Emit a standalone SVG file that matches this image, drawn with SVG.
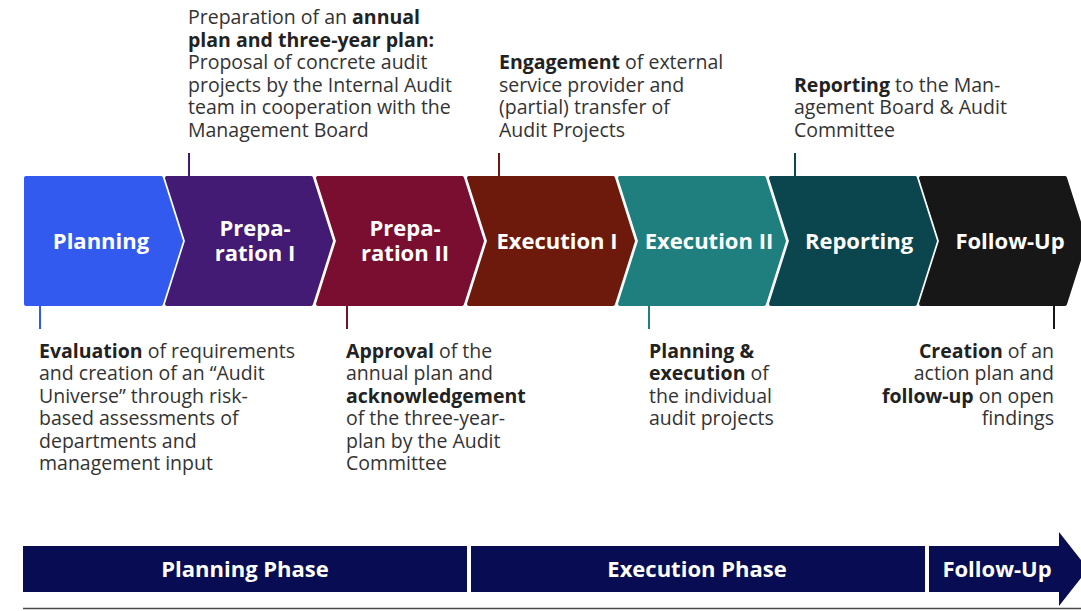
<svg xmlns="http://www.w3.org/2000/svg" width="1081" height="611" viewBox="0 0 1081 611">
<style>
.lbl{font-family:"Open Sans","Liberation Sans",sans-serif;font-weight:700;font-size:22px;fill:#fff;text-anchor:middle}
.bar{font-family:"Open Sans","Liberation Sans",sans-serif;font-weight:700;font-size:22px;fill:#fff;text-anchor:middle}
.txt{font-family:"Open Sans","Liberation Sans",sans-serif;font-size:19.5px;fill:#333}
.b{font-weight:700;fill:#222}
.chev{stroke-width:4;stroke-linejoin:round}
.tick{stroke-width:2;fill:none}
</style>
<rect width="1081" height="611" fill="#fff"/>
<g id="connectors">
<line class="tick" x1="40" y1="306" x2="40" y2="329" stroke="#335AEF"/>
<line class="tick" x1="189" y1="153" x2="189" y2="176" stroke="#431B75"/>
<line class="tick" x1="347" y1="306" x2="347" y2="329" stroke="#790E31"/>
<line class="tick" x1="499" y1="153" x2="499" y2="176" stroke="#6D1A0D"/>
<line class="tick" x1="649" y1="306" x2="649" y2="329" stroke="#1F7F7E"/>
<line class="tick" x1="795" y1="153" x2="795" y2="176" stroke="#0B454E"/>
<line class="tick" x1="1054" y1="306" x2="1054" y2="329" stroke="#171717"/>
</g>
<g id="planning">
<polygon class="chev" fill="#335AEF" stroke="#335AEF" points="26,178 161,178 181,241 161,304 26,304"/>
<text class="lbl" x="101" y="249">Planning</text>
</g>
<g id="preparation1">
<polygon class="chev" fill="#431B75" stroke="#431B75" points="167,178 311,178 331,241 311,304 167,304 187,241"/>
<text class="lbl" x="255" y="236">Prepa-</text>
<text class="lbl" x="255" y="261">ration I</text>
</g>
<g id="preparation2">
<polygon class="chev" fill="#790E31" stroke="#790E31" points="318,178 462,178 482,241 462,304 318,304 338,241"/>
<text class="lbl" x="405" y="236">Prepa-</text>
<text class="lbl" x="405" y="261">ration II</text>
</g>
<g id="execution1">
<polygon class="chev" fill="#6D1A0D" stroke="#6D1A0D" points="469,178 613,178 633,241 613,304 469,304 489,241"/>
<text class="lbl" x="557" y="249">Execution I</text>
</g>
<g id="execution2">
<polygon class="chev" fill="#1F7F7E" stroke="#1F7F7E" points="620,178 764,178 784,241 764,304 620,304 640,241"/>
<text class="lbl" x="709" y="249">Execution II</text>
</g>
<g id="reporting">
<polygon class="chev" fill="#0B454E" stroke="#0B454E" points="771,178 915,178 935,241 915,304 771,304 791,241"/>
<text class="lbl" x="859" y="249">Reporting</text>
</g>
<g id="followup">
<polygon class="chev" fill="#171717" stroke="#171717" points="921,178 1065,178 1085,241 1065,304 921,304 941,241"/>
<text class="lbl" x="1010" y="249">Follow-Up</text>
</g>
<g id="note-prep1">
<text class="txt" x="188" y="24">Preparation of an <tspan class="b">annual</tspan></text>
<text class="txt b" x="188" y="47">plan and three-year plan:</text>
<text class="txt" x="188" y="69">Proposal of concrete audit</text>
<text class="txt" x="188" y="92">projects by the Internal Audit</text>
<text class="txt" x="188" y="114">team in cooperation with the</text>
<text class="txt" x="188" y="137">Management Board</text>
</g>
<g id="note-exec1">
<text class="txt" x="499" y="69"><tspan class="b">Engagement</tspan> of external</text>
<text class="txt" x="499" y="92">service provider and</text>
<text class="txt" x="499" y="114">(partial) transfer of</text>
<text class="txt" x="499" y="137">Audit Projects</text>
</g>
<g id="note-reporting">
<text class="txt" x="794" y="92"><tspan class="b">Reporting</tspan> to the Man-</text>
<text class="txt" x="794" y="114">agement Board &amp; Audit</text>
<text class="txt" x="794" y="137">Committee</text>
</g>
<g id="note-planning">
<text class="txt" x="39" y="358"><tspan class="b">Evaluation</tspan> of requirements</text>
<text class="txt" x="39" y="380">and creation of an “Audit</text>
<text class="txt" x="39" y="403">Universe” through risk-</text>
<text class="txt" x="39" y="425">based assessments of</text>
<text class="txt" x="39" y="448">departments and</text>
<text class="txt" x="39" y="470">management input</text>
</g>
<g id="note-prep2">
<text class="txt" x="346" y="358"><tspan class="b">Approval</tspan> of the</text>
<text class="txt" x="346" y="380">annual plan and</text>
<text class="txt b" x="346" y="403">acknowledgement</text>
<text class="txt" x="346" y="425">of the three-year-</text>
<text class="txt" x="346" y="448">plan by the Audit</text>
<text class="txt" x="346" y="470">Committee</text>
</g>
<g id="note-exec2">
<text class="txt b" x="649" y="358">Planning &amp;</text>
<text class="txt" x="649" y="380"><tspan class="b">execution</tspan> of</text>
<text class="txt" x="649" y="403">the individual</text>
<text class="txt" x="649" y="425">audit projects</text>
</g>
<g id="note-followup" text-anchor="end">
<text class="txt" x="1054" y="358"><tspan class="b">Creation</tspan> of an</text>
<text class="txt" x="1054" y="380">action plan and</text>
<text class="txt" x="1054" y="403"><tspan class="b">follow-up</tspan> on open</text>
<text class="txt" x="1054" y="425">findings</text>
</g>
<g id="phase-planning">
<rect x="23" y="546" width="444" height="46" fill="#080C52"/>
<text class="bar" x="245" y="577">Planning Phase</text>
</g>
<g id="phase-execution">
<rect x="471" y="546" width="454" height="46" fill="#080C52"/>
<text class="bar" x="697" y="577">Execution Phase</text>
</g>
<g id="phase-followup">
<polygon fill="#080C52" points="929,546 1059,546 1059,532 1081,560 1081,578 1059,606 1059,592 929,592"/>
<text class="bar" x="997" y="577">Follow-Up</text>
</g>
<line x1="23" y1="608.5" x2="1081" y2="608.5" stroke="#4a4a4a" stroke-width="1.5"/>
</svg>
